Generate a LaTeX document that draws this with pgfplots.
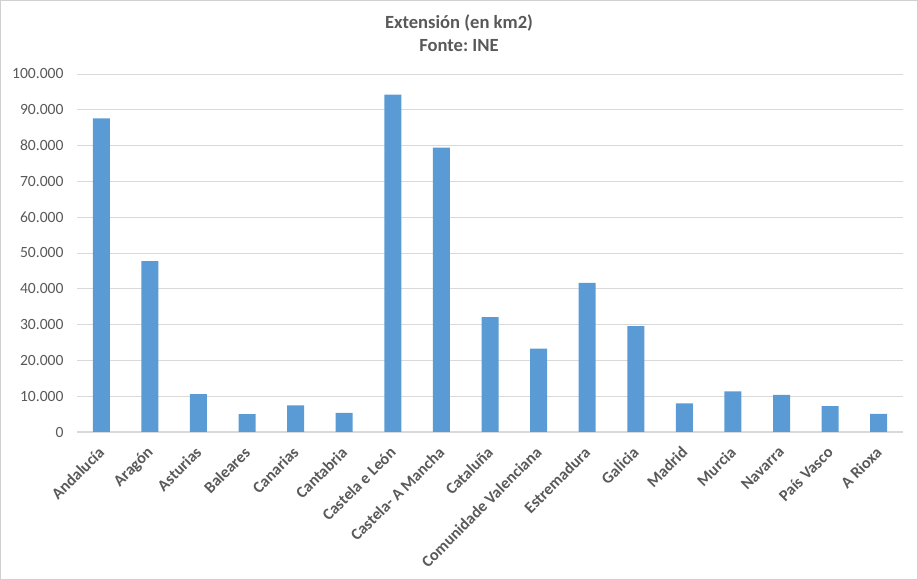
\documentclass[border=0pt]{standalone}
\usepackage{fontspec}
\setmainfont{Carlito}
\usepackage{pgfplots}
\pgfplotsset{compat=1.18}
\definecolor{barblue}{HTML}{5B9BD5}
\definecolor{txtgrey}{HTML}{595959}
\definecolor{gridgrey}{HTML}{D9D9D9}
\definecolor{framegrey}{HTML}{D0D0D0}
\frenchspacing

\begin{document}
\begin{tikzpicture}
\path[use as bounding box] (0,0) rectangle (918bp,580bp);
\draw[framegrey, line width=1.2bp] (0.6bp,0.6bp) rectangle (917.4bp,579.4bp);

% Titles
\node[txtgrey, font=\fontsize{18.6bp}{22bp}\selectfont\bfseries, anchor=base] at (459bp,551bp) {Extensión (en km2)};
\node[txtgrey, font=\fontsize{18.6bp}{22bp}\selectfont\bfseries, anchor=base] at (459bp,528bp) {Fonte: INE};

\begin{axis}[
  at={(77bp,148bp)}, anchor=south west,
  scale only axis,
  width=826bp, height=358bp,
  xmin=-0.5, xmax=16.5,
  ymin=0, ymax=100000,
  ytick distance=10000,
  xtick={0,...,16},
  xticklabels={Andalucía,Aragón,Asturias,Baleares,Canarias,Cantabria,Castela e León,Castela- A Mancha,Cataluña,Comunidade Valenciana,Estremadura,Galicia,Madrid,Murcia,Navarra,País Vasco,A Rioxa},
  axis x line=bottom, axis y line=left,
  axis line style={-},
  x axis line style={gridgrey, line width=1bp},
  y axis line style={draw=none},
  major tick length=0pt,
  ymajorgrids, grid style={gridgrey, line width=0.8bp},
  scaled y ticks=false,
  /pgf/number format/.cd, fixed, 1000 sep={.}, assume math mode=true,
  /pgfplots/.cd,
  yticklabel style={txtgrey, font=\fontsize{15.6bp}{18bp}\selectfont, xshift=-10bp},
  xticklabel style={txtgrey, font=\fontsize{16.2bp}{18bp}\selectfont\bfseries, xshift=-4bp, yshift=-12bp, rotate=45, anchor=north east, inner sep=1bp},
  ybar, bar width=17bp,
]
\addplot[fill=barblue, draw=none] coordinates {
  (0,87597) (1,47720) (2,10604) (3,4992) (4,7447) (5,5321)
  (6,94226) (7,79461) (8,32091) (9,23255) (10,41634) (11,29575)
  (12,8028) (13,11313) (14,10391) (15,7234) (16,5045)
};
\end{axis}
\end{tikzpicture}
\end{document}
